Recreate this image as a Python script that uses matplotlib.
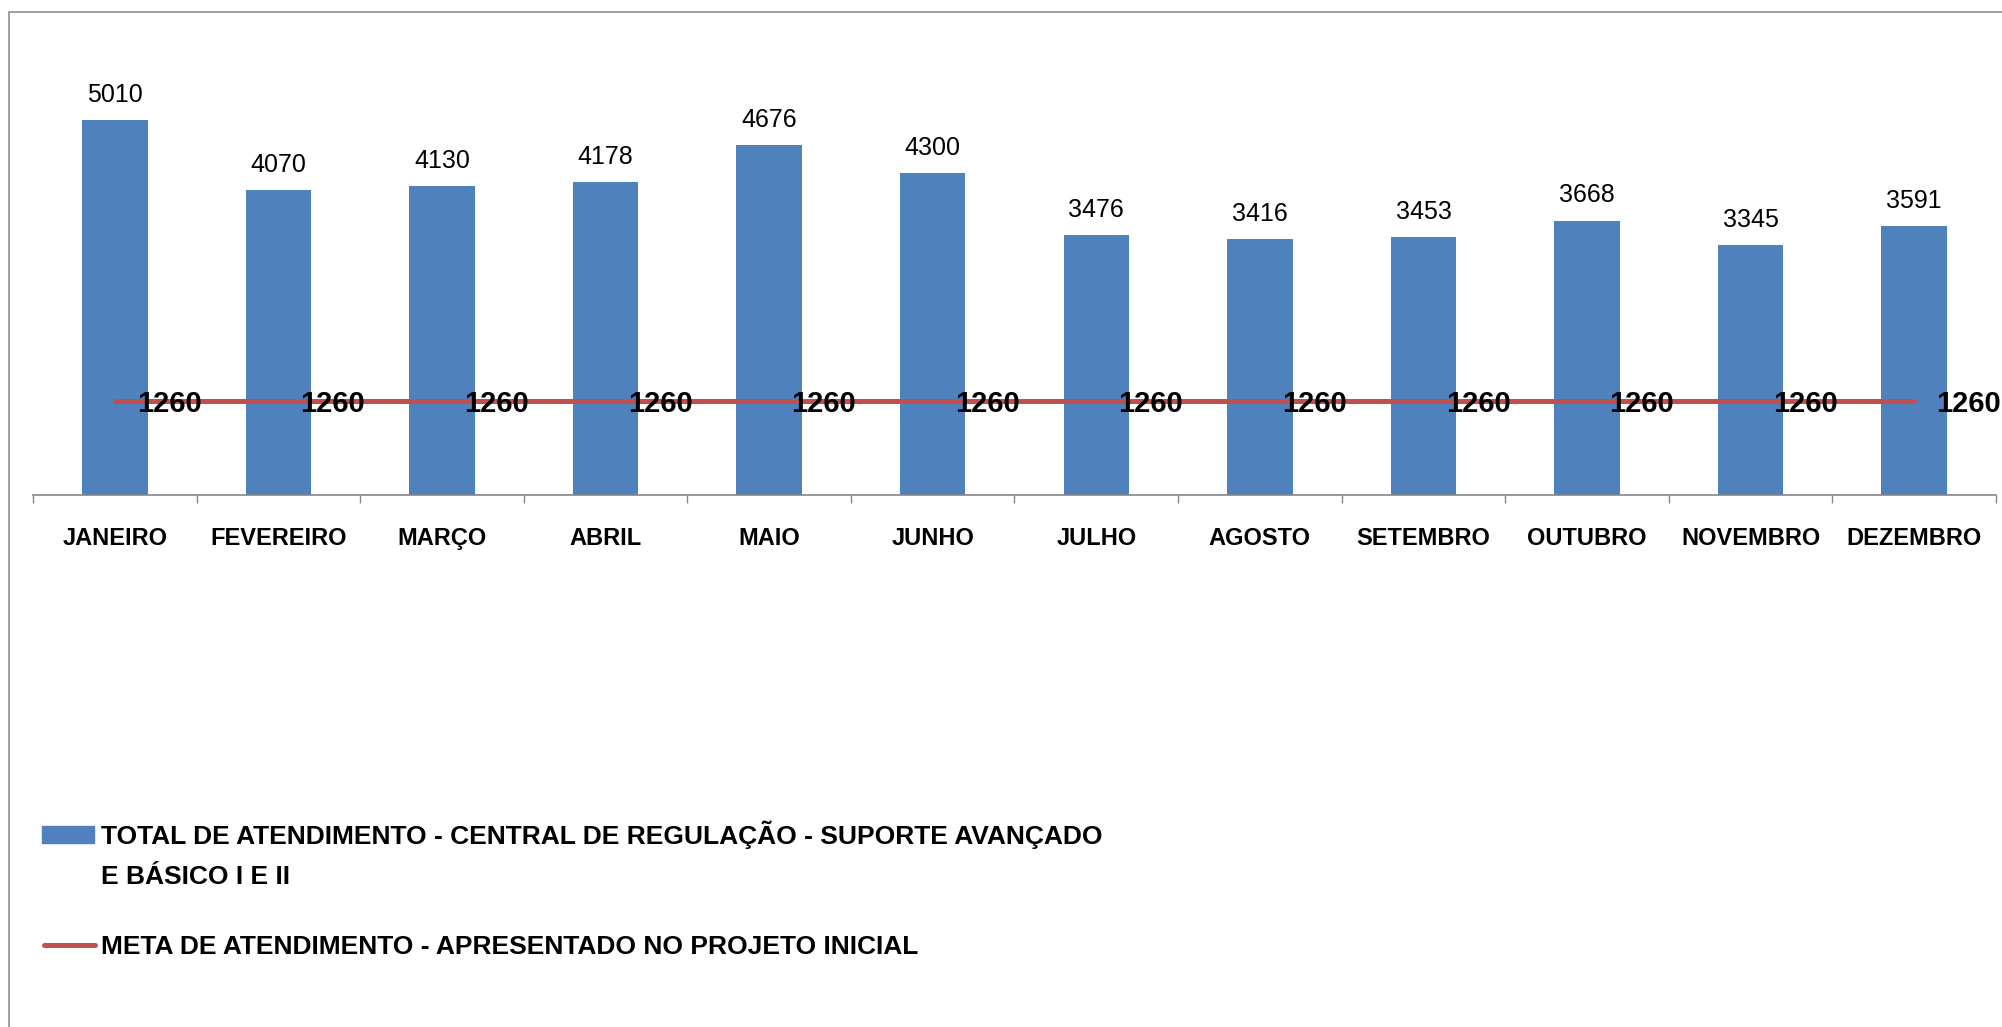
import matplotlib
matplotlib.use("Agg")
import matplotlib.pyplot as plt
from matplotlib.patches import Rectangle
from matplotlib.lines import Line2D

meses = ["JANEIRO", "FEVEREIRO", "MARÇO", "ABRIL", "MAIO", "JUNHO",
         "JULHO", "AGOSTO", "SETEMBRO", "OUTUBRO", "NOVEMBRO", "DEZEMBRO"]
atendimentos = [5010, 4070, 4130, 4178, 4676, 4300, 3476, 3416, 3453, 3668, 3345, 3591]
meta = [1260, 1260, 1260, 1260, 1260, 1260, 1260, 1260, 1260, 1260, 1260, 1260]

label_barras = "TOTAL DE ATENDIMENTO - CENTRAL DE REGULAÇÃO - SUPORTE AVANÇADO"
label_barras2 = "E BÁSICO I E II"
label_meta = "META DE ATENDIMENTO - APRESENTADO NO PROJETO INICIAL"

azul = "#4F81BD"
vermelho = "#C0504D"
cinza = "#868686"

plt.rcParams["font.family"] = ["Liberation Sans", "DejaVu Sans"]

W, H = 2002, 1027
fig = plt.figure(figsize=(W / 100, H / 100), dpi=100)


def fx(px):
    return px / W


def fy(py):
    return 1 - py / H


# chart area border (runs off the right and bottom edges)
fig.add_artist(Rectangle((fx(9), -0.1), 1.2, fy(12) + 0.1, transform=fig.transFigure,
                         fill=False, edgecolor=cinza, linewidth=1.1))

ax = fig.add_axes([fx(33), fy(495), fx(1996) - fx(33), fy(46) - fy(495)])

x = list(range(len(meses)))
bars = ax.bar(x, atendimentos, width=0.4, color=azul, zorder=2)
ax.plot(x, meta, color=vermelho, linewidth=3.6, solid_capstyle="round", zorder=3)

for xi, v in zip(x, atendimentos):
    ax.annotate(str(v), (xi, v), xytext=(0, 13), textcoords="offset points",
                ha="center", va="baseline", fontsize=18)
for xi, v in zip(x, meta):
    ax.annotate(str(v), (xi, v), xytext=(16, -8), textcoords="offset points",
                ha="left", va="baseline", fontsize=21, fontweight="bold",
                annotation_clip=False, zorder=4)

ax.set_xlim(-0.5, len(meses) - 0.5)
ax.set_ylim(0, 6000)
ax.set_yticks([])
for s in ["left", "right", "top"]:
    ax.spines[s].set_visible(False)
ax.spines["bottom"].set_color(cinza)
ax.spines["bottom"].set_linewidth(1.2)

ax.set_xticks([i - 0.5 for i in range(len(meses) + 1)])
ax.set_xticklabels([])
ax.tick_params(axis="x", which="major", direction="out", length=6, color=cinza, width=1)
ax.set_xticks(x, minor=True)
ax.set_xticklabels(meses, minor=True, fontsize=17, fontweight="bold")
ax.tick_params(axis="x", which="minor", length=0, pad=23)

# legend
fig.add_artist(Rectangle((fx(42), fy(843)), fx(94) - fx(42), fy(826) - fy(843),
                         transform=fig.transFigure, color=azul))
fig.text(fx(101), fy(844), label_barras, fontsize=19, fontweight="bold", va="baseline")
fig.text(fx(101), fy(884), label_barras2, fontsize=19, fontweight="bold", va="baseline")
fig.add_artist(Line2D([fx(44), fx(95)], [fy(945), fy(945)], transform=fig.transFigure,
                      color=vermelho, linewidth=3.6, solid_capstyle="round"))
fig.text(fx(101), fy(954), label_meta, fontsize=19, fontweight="bold", va="baseline")

fig.savefig("out.png", dpi=100)
